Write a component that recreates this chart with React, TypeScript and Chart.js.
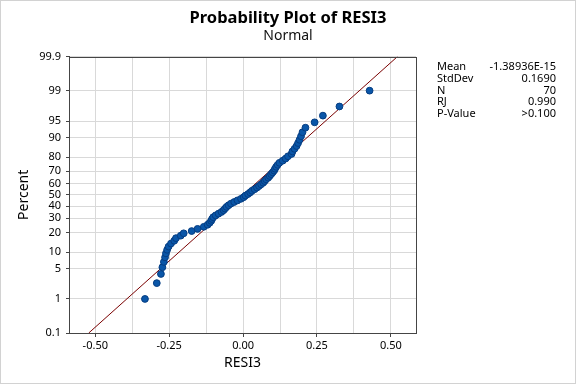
import React, { useEffect, useRef } from "react";
import { Chart, Scale, registerables } from "chart.js";

// ---------- data ----------
const residuals: number[] = [
  -0.332, -0.292, -0.278, -0.273, -0.268, -0.264, -0.261, -0.257, -0.252, -0.244,
  -0.233, -0.227, -0.211, -0.201, -0.174, -0.154, -0.133, -0.120, -0.113, -0.108,
  -0.105, -0.101, -0.093, -0.083, -0.073, -0.066, -0.061, -0.056, -0.049, -0.041,
  -0.030, -0.019, -0.007, 0.002, 0.008, 0.017, 0.024, 0.030, 0.039, 0.047,
  0.054, 0.061, 0.068, 0.073, 0.078, 0.085, 0.090, 0.095, 0.100, 0.105,
  0.108, 0.112, 0.117, 0.123, 0.134, 0.144, 0.152, 0.164, 0.167, 0.174,
  0.181, 0.186, 0.191, 0.196, 0.201, 0.211, 0.242, 0.270, 0.326, 0.428,
];
const percents: number[] = [
  0.994, 2.415, 3.835, 5.256, 6.676, 8.097, 9.517, 10.938, 12.358, 13.778,
  15.199, 16.619, 18.04, 19.46, 20.881, 22.301, 23.722, 25.142, 26.563, 27.983,
  29.403, 30.824, 32.244, 33.665, 35.085, 36.506, 37.926, 39.347, 40.767, 42.188,
  43.608, 45.028, 46.449, 47.869, 49.29, 50.71, 52.131, 53.551, 54.972, 56.392,
  57.812, 59.233, 60.653, 62.074, 63.494, 64.915, 66.335, 67.756, 69.176, 70.597,
  72.017, 73.438, 74.858, 76.278, 77.699, 79.119, 80.54, 81.96, 83.381, 84.801,
  86.222, 87.642, 89.063, 90.483, 91.903, 93.324, 94.744, 96.165, 97.585, 99.006,
];
const fitLineX: number[] = [-0.5222, 0.5222];
const fitLinePct: number[] = [0.1, 99.9];
const yTickValues: number[] = [0.1, 1, 5, 10, 20, 30, 40, 50, 60, 70, 80, 90, 95, 99, 99.9];
const xGridValues: number[] = [-0.5, -0.375, -0.25, -0.125, 0, 0.125, 0.25, 0.375, 0.5];
const xLabelValues: number[] = [-0.5, -0.25, 0, 0.25, 0.5];
const statLabels: string[] = ["Mean", "StdDev", "N", "RJ", "P-Value"];
const statValues: string[] = ["-1.38936E-15", "0.1690", "70", "0.990", ">0.100"];

const FONT = '"Segoe UI", "Noto Sans", "Open Sans", sans-serif';

// ---------- normal probability scale ----------
function probit(p: number): number {
  const a = [-3.969683028665376e1, 2.209460984245205e2, -2.759285104469687e2, 1.38357751867269e2, -3.066479806614716e1, 2.506628277459239];
  const b = [-5.447609879822406e1, 1.615858368580409e2, -1.556989798598866e2, 6.680131188771972e1, -1.328068155288572e1];
  const c = [-7.784894002430293e-3, -3.223964580411365e-1, -2.400758277161838, -2.549732539343734, 4.374664141464968, 2.938163982698783];
  const d = [7.784695709041462e-3, 3.224671290700398e-1, 2.445134137142996, 3.754408661907416];
  const pl = 0.02425;
  if (p <= 0) return -8;
  if (p >= 1) return 8;
  if (p < pl) {
    const q = Math.sqrt(-2 * Math.log(p));
    return (((((c[0] * q + c[1]) * q + c[2]) * q + c[3]) * q + c[4]) * q + c[5]) / ((((d[0] * q + d[1]) * q + d[2]) * q + d[3]) * q + 1);
  }
  if (p <= 1 - pl) {
    const q = p - 0.5;
    const r = q * q;
    return ((((((a[0] * r + a[1]) * r + a[2]) * r + a[3]) * r + a[4]) * r + a[5]) * q) / (((((b[0] * r + b[1]) * r + b[2]) * r + b[3]) * r + b[4]) * r + 1);
  }
  const q = Math.sqrt(-2 * Math.log(1 - p));
  return -(((((c[0] * q + c[1]) * q + c[2]) * q + c[3]) * q + c[4]) * q + c[5]) / ((((d[0] * q + d[1]) * q + d[2]) * q + d[3]) * q + 1);
}
function normCdf(z: number): number {
  const t = 1 / (1 + 0.2316419 * Math.abs(z));
  const y = 0.3989422804014327 * Math.exp(-z * z / 2) * t * (0.31938153 + t * (-0.356563782 + t * (1.781477937 + t * (-1.821255978 + t * 1.330274429))));
  return z > 0 ? 1 - y : y;
}

class ProbabilityScale extends (Scale as any) {
  static id = "probability";
  static defaults = {};
  _zMin = 0;
  _zRange = 1;
  determineDataLimits() {
    const o: any = this.options;
    this.min = o.min ?? 0.1;
    this.max = o.max ?? 99.9;
  }
  buildTicks() {
    const vals: number[] = (this.options as any).tickValues || yTickValues;
    return vals.map((v) => ({ value: v }));
  }
  getLabelForValue(value: number) {
    return String(value);
  }
  configure() {
    super.configure();
    this._zMin = probit(this.min / 100);
    this._zRange = probit(this.max / 100) - this._zMin;
  }
  getPixelForValue(value: number) {
    if (value === null || value === undefined || isNaN(value)) return NaN;
    return this.getPixelForDecimal((probit(value / 100) - this._zMin) / this._zRange);
  }
  getValueForPixel(pixel: number) {
    const z = this._zMin + this.getDecimalForPixel(pixel) * this._zRange;
    return normCdf(z) * 100;
  }
}

Chart.register(...registerables, ProbabilityScale as any);

const decorPlugin = {
  id: "decor",
  afterDraw(chart: any) {
    const { ctx, chartArea: a } = chart;
    ctx.save();
    // outer frame
    ctx.strokeStyle = "#d2d2d2";
    ctx.lineWidth = 1;
    ctx.strokeRect(0.5, 0.5, chart.width - 1, chart.height - 1);
    // plot box
    ctx.strokeStyle = "#454545";
    const l = Math.round(a.left) + 0.5;
    const t = Math.round(a.top) + 0.5;
    const r = Math.round(a.right) + 0.5;
    const b = Math.round(a.bottom) + 0.5;
    ctx.strokeRect(l, t, r - l, b - t);
    // stats table
    ctx.fillStyle = "#000";
    ctx.font = `11px ${FONT}`;
    ctx.textBaseline = "alphabetic";
    statLabels.forEach((lab, i) => {
      const y = 70 + i * 11.8;
      ctx.textAlign = "left";
      ctx.fillText(lab, 437, y);
      ctx.textAlign = "right";
      ctx.fillText(statValues[i], 556, y);
    });
    ctx.restore();
  },
};

export default function App() {
  const ref = useRef<HTMLCanvasElement | null>(null);
  useEffect(() => {
    if (!ref.current) return;
    const points = residuals.map((x, i) => ({ x, y: percents[i] }));
    const fit = fitLineX.map((x, i) => ({ x, y: fitLinePct[i] }));
    const chart = new Chart(ref.current, {
      type: "scatter",
      data: {
        datasets: [
          {
            label: "RESI3",
            data: points,
            backgroundColor: "#0a56a8",
            borderColor: "#053d82",
            borderWidth: 1,
            pointRadius: 3.4,
            order: 0,
          },
          {
            label: "Fit",
            data: fit,
            showLine: true,
            borderColor: "#7a0000",
            borderWidth: 1,
            pointRadius: 0,
            fill: false,
            order: 1,
          },
        ],
      } as any,
      plugins: [decorPlugin],
      options: {
        animation: false,
        responsive: false,
        maintainAspectRatio: false,
        devicePixelRatio: 1,
        layout: { padding: { left: 0, right: 0, top: 0, bottom: 0 } },
        plugins: {
          legend: { display: false },
          tooltip: { enabled: false },
          title: {
            display: true,
            text: "Probability Plot of RESI3",
            color: "#000",
            font: { family: FONT, size: 16.5, weight: "bold" },
            padding: { top: 8, bottom: 0 },
          },
          subtitle: {
            display: true,
            text: "Normal",
            color: "#111",
            font: { family: FONT, size: 14, weight: "normal" },
            padding: { top: 0, bottom: 12 },
          },
        },
        scales: {
          x: {
            type: "linear",
            min: -0.589,
            max: 0.585,
            afterBuildTicks: (scale: any) => {
              scale.ticks = xGridValues.map((v) => ({ value: v }));
            },
            afterFit: (scale: any) => {
              scale.height = 51;
            },
            ticks: {
              autoSkip: false,
              maxRotation: 0,
              padding: 2,
              color: "#000",
              font: { family: FONT, size: 11 },
              callback: (v: any) => (xLabelValues.includes(Number(v)) ? Number(v).toFixed(2) : ""),
            },
            grid: {
              color: "#d9d9d9",
              lineWidth: 1,
              tickLength: 4,
              tickColor: (ctx: any) =>
                ctx.tick && xLabelValues.includes(ctx.tick.value) ? "#454545" : "rgba(0,0,0,0)",
            },
            border: { display: true, color: "#454545", width: 1 },
            title: {
              display: true,
              text: "RESI3",
              color: "#000",
              font: { family: FONT, size: 14 },
              padding: { top: 0, bottom: 13 },
            },
          },
          y: {
            type: "probability" as any,
            min: 0.1,
            max: 99.9,
            afterFit: (scale: any) => {
              scale.width = 69;
            },
            ticks: {
              padding: 5,
              color: "#000",
              font: { family: FONT, size: 11 },
              autoSkip: false,
            },
            grid: {
              color: "#d9d9d9",
              lineWidth: 1,
              tickLength: 3,
              tickColor: "#454545",
            },
            border: { display: true, color: "#454545", width: 1 },
            title: {
              display: true,
              text: "Percent",
              color: "#000",
              font: { family: FONT, size: 14 },
              padding: { top: 16, bottom: 0 },
            },
          } as any,
          statsSpace: {
            type: "linear",
            position: "right",
            display: true,
            grid: { display: false, drawTicks: false },
            border: { display: false },
            ticks: { display: false },
            afterFit: (scale: any) => {
              scale.width = 160;
            },
          },
        },
      } as any,
    });
    return () => chart.destroy();
  }, []);
  return (
    <div style={{ position: "absolute", left: 0, top: 0, width: 576, height: 384, background: "#fff" }}>
      <canvas ref={ref} width={576} height={384} style={{ display: "block", width: 576, height: 384 }} />
    </div>
  );
}
